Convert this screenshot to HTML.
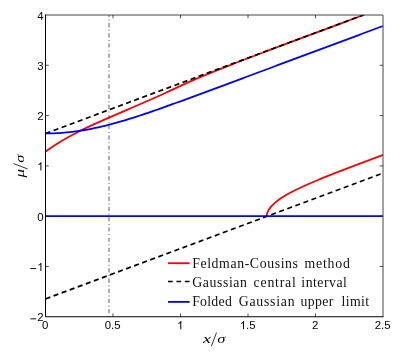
<!DOCTYPE html>
<html><head><meta charset="utf-8">
<style>
html,body{margin:0;padding:0;background:#fff;}
body{width:407px;height:356px;overflow:hidden;}
svg{display:block;will-change:transform;}
.tk text{font-family:"Liberation Sans",sans-serif;font-size:11.4px;fill:#000;}
.lg text{font-family:"Liberation Serif",serif;font-size:13.8px;fill:#111;}
.ax text{font-family:"Liberation Serif",serif;font-style:italic;font-size:13px;fill:#000;}
</style></head>
<body>
<svg width="407" height="356" viewBox="0 0 407 356">
<rect width="407" height="356" fill="#fff"/>
<defs><clipPath id="c"><rect x="45.5" y="15.0" width="337.5" height="301.75"/></clipPath></defs>
<g clip-path="url(#c)" fill="none">
<path d="M109,15 V317" stroke="#adadad" stroke-width="2" stroke-dasharray="4.1 2.55 1 2.57" stroke-dashoffset="2.16"/>
<path d="M45.50,151.54 L46.11,151.29 L46.78,150.79 L47.46,150.28 L48.13,149.78 L48.88,149.28 L49.55,148.78 L50.29,148.27 L51.03,147.77 L51.71,147.27 L52.52,146.76 L53.26,146.26 L54.01,145.76 L54.75,145.26 L55.56,144.75 L56.30,144.25 L57.11,143.75 L57.92,143.24 L58.73,142.74 L59.54,142.24 L60.35,141.74 L61.16,141.23 L61.97,140.73 L62.85,140.23 L63.66,139.72 L64.53,139.22 L65.41,138.72 L66.29,138.21 L67.23,137.71 L68.11,137.21 L68.99,136.71 L69.94,136.20 L70.88,135.70 L71.76,135.20 L72.70,134.69 L73.65,134.19 L74.66,133.69 L75.61,133.19 L76.62,132.68 L77.56,132.18 L78.51,131.68 L79.59,131.17 L80.60,130.67 L81.61,130.17 L82.62,129.67 L83.64,129.16 L84.65,128.66 L85.73,128.16 L86.74,127.65 L87.82,127.15 L88.90,126.65 L89.98,126.14 L91.06,125.64 L92.14,125.14 L93.22,124.64 L94.30,124.13 L95.45,123.63 L96.53,123.13 L97.68,122.62 L98.76,122.12 L99.91,121.62 L101.05,121.12 L102.13,120.61 L103.28,120.11 L104.43,119.61 L105.58,119.10 L106.72,118.60 L107.87,118.10 L109.02,117.59 L110.17,117.09 L111.31,116.59 L112.46,116.09 L113.61,115.58 L114.82,115.08 L115.97,114.58 L117.12,114.07 L118.33,113.57 L119.48,113.07 L120.63,112.57 L121.78,112.06 L122.99,111.56 L124.14,111.06 L125.28,110.55 L126.50,110.05 L127.65,109.55 L128.80,109.05 L130.01,108.54 L131.16,108.04 L132.31,107.54 L133.52,107.03 L134.67,106.53 L135.81,106.03 L136.96,105.52 L138.18,105.02 L139.32,104.52 L140.47,104.02 L141.62,103.51 L142.77,103.01 L143.91,102.51 L145.06,102.00 L146.21,101.50 L147.36,101.00 L148.50,100.50 L149.65,99.99 L150.80,99.49 L151.95,98.99 L153.03,98.48 L154.18,97.98 L155.32,97.48 L156.47,96.98 L157.55,96.47 L158.70,95.97 L159.84,95.47 L160.93,94.96 L162.07,94.46 L163.15,93.96 L164.30,93.45 L165.38,92.95 L166.46,92.45 L167.61,91.95 L168.69,91.44 L169.77,90.94 L170.85,90.44 L171.93,89.93 L173.01,89.43 L174.09,88.93 L175.17,88.43 L176.25,87.92 L177.33,87.42 L178.41,86.92 L179.49,86.41 L180.57,85.91 L181.58,85.41 L182.66,84.91 L183.74,84.40 L184.89,83.90 L185.97,83.40 L187.05,82.89 L188.19,82.39 L189.28,81.89 L190.42,81.38 L191.57,80.88 L192.72,80.38 L193.87,79.88 L195.01,79.37 L196.16,78.87 L197.31,78.37 L198.52,77.86 L199.74,77.36 L200.88,76.86 L202.10,76.36 L203.25,75.85 L204.46,75.35 L205.68,74.85 L206.89,74.34 L208.11,73.84 L209.32,73.34 L210.54,72.84 L211.82,72.33 L213.04,71.83 L214.32,71.33 L215.53,70.82 L216.82,70.32 L218.03,69.82 L219.31,69.31 L220.59,68.81 L221.88,68.31 L223.16,67.81 L224.38,67.30 L225.66,66.80 L226.94,66.30 L228.22,65.79 L229.57,65.29 L230.85,64.79 L232.14,64.29 L233.42,63.78 L234.70,63.28 L236.05,62.78 L237.34,62.27 L238.62,61.77 L239.97,61.27 L241.25,60.77 L242.60,60.26 L243.88,59.76 L245.23,59.26 L246.52,58.75 L247.87,58.25 L249.15,57.75 L250.50,57.24 L251.78,56.74 L253.13,56.24 L254.48,55.74 L255.76,55.23 L257.11,54.73 L258.46,54.23 L259.81,53.72 L261.10,53.22 L262.44,52.72 L263.79,52.22 L265.14,51.71 L266.43,51.21 L267.78,50.71 L269.13,50.20 L270.48,49.70 L271.83,49.20 L273.18,48.70 L274.46,48.19 L275.81,47.69 L277.16,47.19 L278.51,46.68 L279.86,46.18 L281.21,45.68 L282.56,45.18 L283.91,44.67 L285.26,44.17 L286.61,43.67 L287.89,43.16 L289.24,42.66 L290.59,42.16 L291.94,41.65 L293.29,41.15 L294.64,40.65 L295.99,40.15 L297.34,39.64 L298.69,39.14 L300.04,38.64 L301.39,38.13 L302.74,37.63 L304.09,37.13 L305.44,36.63 L306.79,36.12 L308.14,35.62 L309.49,35.12 L310.84,34.61 L312.19,34.11 L313.54,33.61 L314.89,33.10 L316.24,32.60 L317.59,32.10 L318.94,31.60 L320.29,31.09 L321.64,30.59 L322.99,30.09 L324.34,29.58 L325.69,29.08 L327.04,28.58 L328.39,28.08 L329.74,27.57 L331.09,27.07 L332.44,26.57 L333.79,26.06 L335.14,25.56 L336.49,25.06 L337.84,24.56 L339.19,24.05 L340.54,23.55 L341.89,23.05 L343.24,22.54 L344.59,22.04 L345.94,21.54 L347.29,21.04 L348.64,20.53 L349.99,20.03 L351.34,19.53 L352.69,19.02 L354.04,18.52 L355.39,18.02 L356.74,17.51 L358.09,17.01 L359.44,16.51 L360.79,16.01 L362.14,15.50 L363.49,15.00 L363.49,15.00" stroke="#ff0000" stroke-width="1.8" stroke-linejoin="round"/>
<path d="M266.70,216.17 L266.73,215.66 L266.75,215.16 L266.85,214.66 L266.94,214.16 L267.10,213.65 L267.26,213.15 L267.42,212.65 L267.58,212.14 L267.80,211.64 L268.03,211.14 L268.32,210.63 L268.54,210.13 L268.83,209.63 L269.18,209.13 L269.54,208.62 L269.90,208.12 L270.25,207.62 L270.67,207.11 L271.09,206.61 L271.51,206.11 L272.00,205.61 L272.49,205.10 L272.97,204.60 L273.46,204.10 L274.01,203.59 L274.56,203.09 L275.18,202.59 L275.80,202.08 L276.42,201.58 L277.04,201.08 L277.73,200.58 L278.34,200.07 L279.10,199.57 L279.78,199.07 L280.53,198.56 L281.28,198.06 L282.03,197.56 L282.85,197.06 L283.67,196.55 L284.49,196.05 L285.31,195.55 L286.12,195.04 L287.01,194.54 L287.89,194.04 L288.84,193.54 L289.73,193.03 L290.68,192.53 L291.63,192.03 L292.58,191.52 L293.60,191.02 L294.55,190.52 L295.57,190.01 L296.59,189.51 L297.60,189.01 L298.69,188.51 L299.70,188.00 L300.79,187.50 L301.87,187.00 L302.96,186.49 L304.04,185.99 L305.19,185.49 L306.28,184.99 L307.43,184.48 L308.58,183.98 L309.73,183.48 L310.88,182.97 L312.03,182.47 L313.25,181.97 L314.40,181.47 L315.62,180.96 L316.84,180.46 L318.05,179.96 L319.27,179.45 L320.49,178.95 L321.71,178.45 L322.92,177.94 L324.14,177.44 L325.42,176.94 L326.64,176.44 L327.93,175.93 L329.21,175.43 L330.43,174.93 L331.71,174.42 L333.00,173.92 L334.28,173.42 L335.57,172.92 L336.85,172.41 L338.13,171.91 L339.42,171.41 L340.77,170.90 L342.05,170.40 L343.34,169.90 L344.69,169.40 L345.97,168.89 L347.26,168.39 L348.61,167.89 L349.89,167.38 L351.24,166.88 L352.53,166.38 L353.88,165.88 L355.23,165.37 L356.51,164.87 L357.86,164.37 L359.15,163.86 L360.50,163.36 L361.85,162.86 L363.20,162.35 L364.48,161.85 L365.83,161.35 L367.18,160.85 L368.53,160.34 L369.88,159.84 L371.17,159.34 L372.52,158.83 L373.87,158.33 L375.22,157.83 L376.57,157.33 L377.92,156.82 L379.27,156.32 L380.55,155.82 L381.90,155.31 L383.00,154.91" stroke="#ff0000" stroke-width="1.8" stroke-linejoin="round"/>
<path d="M45.50,133.44 L383.00,7.71" stroke="#000" stroke-width="1.65" stroke-dasharray="5.1 3.5"/>
<path d="M45.50,298.90 L383.00,173.17" stroke="#000" stroke-width="1.65" stroke-dasharray="5.1 3.5"/>
<path d="M45.50,133.44 L48.20,133.43 L50.90,133.38 L53.60,133.30 L56.30,133.18 L59.00,133.03 L61.70,132.85 L64.40,132.64 L67.10,132.39 L69.80,132.11 L72.50,131.80 L75.20,131.46 L77.90,131.09 L80.60,130.69 L83.30,130.26 L86.00,129.79 L88.70,129.30 L91.40,128.78 L94.10,128.24 L96.80,127.66 L99.50,127.06 L102.20,126.43 L104.90,125.78 L107.60,125.11 L110.30,124.41 L113.00,123.69 L115.70,122.95 L118.40,122.19 L121.10,121.41 L123.80,120.62 L126.50,119.80 L129.20,118.97 L131.90,118.13 L134.60,117.27 L137.30,116.39 L140.00,115.51 L142.70,114.61 L145.40,113.71 L148.10,112.79 L150.80,111.86 L153.50,110.93 L156.20,109.99 L158.90,109.04 L161.60,108.09 L164.30,107.13 L167.00,106.16 L169.70,105.19 L172.40,104.22 L175.10,103.24 L177.80,102.26 L180.50,101.28 L183.20,100.29 L185.90,99.30 L188.60,98.31 L191.30,97.32 L194.00,96.32 L196.70,95.33 L199.40,94.33 L202.10,93.33 L204.80,92.33 L207.50,91.33 L210.20,90.33 L212.90,89.33 L215.60,88.33 L218.30,87.32 L221.00,86.32 L223.70,85.32 L226.40,84.31 L229.10,83.31 L231.80,82.31 L234.50,81.30 L237.20,80.30 L239.90,79.29 L242.60,78.29 L245.30,77.28 L248.00,76.28 L250.70,75.27 L253.40,74.26 L256.10,73.26 L258.80,72.25 L261.50,71.25 L264.20,70.24 L266.90,69.24 L269.60,68.23 L272.30,67.22 L275.00,66.22 L277.70,65.21 L280.40,64.21 L283.10,63.20 L285.80,62.20 L288.50,61.19 L291.20,60.18 L293.90,59.18 L296.60,58.17 L299.30,57.17 L302.00,56.16 L304.70,55.16 L307.40,54.15 L310.10,53.14 L312.80,52.14 L315.50,51.13 L318.20,50.13 L320.90,49.12 L323.60,48.11 L326.30,47.11 L329.00,46.10 L331.70,45.10 L334.40,44.09 L337.10,43.09 L339.80,42.08 L342.50,41.07 L345.20,40.07 L347.90,39.06 L350.60,38.06 L353.30,37.05 L356.00,36.04 L358.70,35.04 L361.40,34.03 L364.10,33.03 L366.80,32.02 L369.50,31.02 L372.20,30.01 L374.90,29.00 L377.60,28.00 L380.30,26.99 L383.00,25.99" stroke="#0000ff" stroke-width="1.8" stroke-linejoin="round"/>
<path d="M45.50,216.17 H383.00" stroke="#0000ff" stroke-width="1.8"/>
</g>
<g stroke="#000" stroke-width="1" fill="none">
<path d="M45.5,15.0 H383.0 V316.75" stroke="#444"/>
<path d="M45.5,14.5 V316.75 H383.5"/>
<path d="M113.00,316.75 V313.45 M113.00,15.0 V18.3 M180.50,316.75 V313.45 M180.50,15.0 V18.3 M248.00,316.75 V313.45 M248.00,15.0 V18.3 M315.50,316.75 V313.45 M315.50,15.0 V18.3 M45.5,266.46 H48.8 M383.0,266.46 H379.7 M45.5,216.17 H48.8 M383.0,216.17 H379.7 M45.5,165.88 H48.8 M383.0,165.88 H379.7 M45.5,115.58 H48.8 M383.0,115.58 H379.7 M45.5,65.29 H48.8 M383.0,65.29 H379.7" stroke-width="0.8" stroke="#222"/>
</g>
<g class="tk">
<text x="42.03" y="329.30">0</text>
<text x="104.78" y="329.30">0.5</text>
<path transform="translate(177.03,329.30) scale(11.4,-11.4)" d="M.2847,.5601 Q.2529,.5298 .2014,.4995 Q.1499,.4692 .1089,.4541 L.1089,.5391 Q.1826,.5737 .2378,.6230 Q.2930,.6724 .3159,.7188 L.3726,.7188 L.3726,0 L.2847,0 Z" fill="#000" stroke="none"/>
<path transform="translate(239.78,329.30) scale(11.4,-11.4)" d="M.2847,.5601 Q.2529,.5298 .2014,.4995 Q.1499,.4692 .1089,.4541 L.1089,.5391 Q.1826,.5737 .2378,.6230 Q.2930,.6724 .3159,.7188 L.3726,.7188 L.3726,0 L.2847,0 Z" fill="#000" stroke="none"/>
<text x="246.12" y="329.30">.5</text>
<text x="312.03" y="329.30">2</text>
<text x="374.78" y="329.30">2.5</text>
<path d="M30.35,318.85 H36.16" stroke="#000" stroke-width="0.95" fill="none"/>
<text x="37.16" y="321.30">2</text>
<path d="M30.35,268.56 H36.16" stroke="#000" stroke-width="0.95" fill="none"/>
<path transform="translate(37.16,271.01) scale(11.4,-11.4)" d="M.2847,.5601 Q.2529,.5298 .2014,.4995 Q.1499,.4692 .1089,.4541 L.1089,.5391 Q.1826,.5737 .2378,.6230 Q.2930,.6724 .3159,.7188 L.3726,.7188 L.3726,0 L.2847,0 Z" fill="#000" stroke="none"/>
<text x="37.16" y="220.72">0</text>
<path transform="translate(37.16,170.43) scale(11.4,-11.4)" d="M.2847,.5601 Q.2529,.5298 .2014,.4995 Q.1499,.4692 .1089,.4541 L.1089,.5391 Q.1826,.5737 .2378,.6230 Q.2930,.6724 .3159,.7188 L.3726,.7188 L.3726,0 L.2847,0 Z" fill="#000" stroke="none"/>
<text x="37.16" y="120.13">2</text>
<text x="37.16" y="69.84">3</text>
<text x="37.16" y="19.55">4</text>
</g>
<g class="lg">
<path d="M168,263.2 H189.6" stroke="#ff0000" stroke-width="1.8"/>
<path d="M168,281.5 H189.6" stroke="#000" stroke-width="1.7" stroke-dasharray="4.7 3.75"/>
<path d="M168,301.9 H189.6" stroke="#0000ff" stroke-width="1.8"/>
<text x="192.2" y="267.7" letter-spacing="0.6">Feldman-Cousins</text>
<text x="304.4" y="267.7" letter-spacing="0.82">method</text>
<text x="192.2" y="286.6" letter-spacing="0.6">Gaussian</text>
<text x="253.6" y="286.6" letter-spacing="0.783">central</text>
<text x="301.3" y="286.6" letter-spacing="0.5">interval</text>
<text x="192.2" y="305.8" letter-spacing="0.26">Folded</text>
<text x="238.7" y="305.8" letter-spacing="0.757">Gaussian</text>
<text x="300.4" y="305.8" letter-spacing="0.4">upper</text>
<text x="341.4" y="305.8" letter-spacing="0.425">limit</text>
</g>
<g transform="translate(202.8,343.0)" class="ax">
<text transform="translate(0.3,0) scale(1.38,1)">x</text>
<path d="M8.6,3.2 L13.7,-10.4" stroke="#000" stroke-width="0.8" fill="none"/>
<text transform="translate(14.5,0) scale(1.27,1)">&#963;</text>
</g>
<g transform="translate(24.4,177.9) rotate(-90)" class="ax">
<text transform="translate(0.3,0) scale(1.3,1)">&#956;</text>
<path d="M9.0,3.2 L14.3,-10.9" stroke="#000" stroke-width="0.8" fill="none"/>
<text transform="translate(15.2,0) scale(1.27,1)">&#963;</text>
</g>
</svg>
</body></html>
